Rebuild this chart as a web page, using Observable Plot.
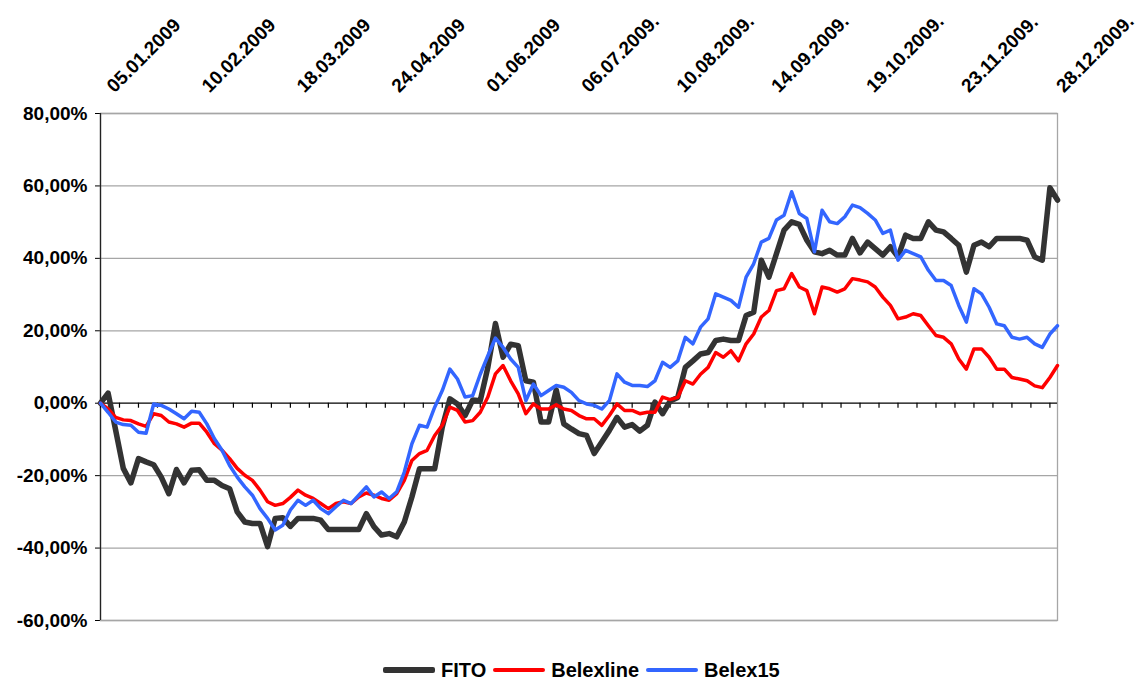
<!DOCTYPE html>
<html>
<head>
<meta charset="utf-8">
<script src="https://cdn.jsdelivr.net/npm/d3@7"></script>
<script src="https://cdn.jsdelivr.net/npm/@observablehq/plot@0.6"></script>
<style>
  html, body { margin: 0; padding: 0; background: #ffffff; }
  #chart { position: relative; width: 1142px; height: 681px; overflow: hidden; font-family: "Liberation Sans", Arial, sans-serif; }
  #legend { position: absolute; left: 383px; top: 657px; height: 26px; display: flex; align-items: center; font-weight: bold; font-size: 20px; color: #000; }
  #legend .item { display: flex; align-items: center; margin-right: 7px; }
  #legend .sw { display: inline-block; width: 52px; margin-right: 6px; }
</style>
</head>
<body>
<div id="chart"><div id="legend"></div></div>
<script>
// Values in %, sampled every 2 trading days (day index 0, 2, 4, ... 252)
const fito = [
  0, 2.8, -7.5, -18, -22, -15.3, -16.2, -17, -20.4, -25, -18.3, -22, -18.5, -18.4, -21.3, -21.3, -22.7, -23.6, -30, -32.8, -33.2, -33.2, -39.6, -31.8, -31.6, -34,
  -31.8, -31.8, -31.8, -32.3, -34.9, -34.9, -34.9, -34.9, -34.9, -30.5, -34.1, -36.4, -36, -36.9, -32.8, -25.9, -18.1, -18.1, -18.1, -6.6, 1.2, -0.2, -3.4, 0.9, 0.7,
  9.9, 22, 12.7, 16.3, 15.9, 6.2, 5.8, -5.2, -5.2, 3.7, -5.7, -7.1, -8.4, -8.9, -13.9, -10.7, -7.5, -3.9, -6.6, -5.9, -7.7, -6.1, 0.3, -2.9, 0.6,
  1.6, 9.9, 11.7, 13.6, 14, 17.3, 17.7, 17.3, 17.3, 24.2, 25.1, 39.5, 34.8, 41.3, 47.8, 50.1, 49.4, 45, 41.8, 41.3, 42.2, 40.9, 40.9, 45.5, 41.5,
  44.5, 42.7, 40.9, 43.2, 40.4, 46.4, 45.5, 45.5, 50.1, 47.8, 47.3, 45.5, 43.6, 36.2, 43.6, 44.5, 43.2, 45.5, 45.5, 45.5, 45.5, 45, 40.4, 39.5, 59.5, 56.1
];
const belexline = [
  0, -1.6, -3.9, -4.6, -4.8, -5.7, -6.4, -2.9, -3.4, -5.2, -5.7, -6.6, -5.5, -5.5, -8, -11.2, -13, -15.3, -18, -19.9, -21.3, -24, -27.2, -28.2, -27.7, -26,
  -24, -25.4, -26.3, -27.7, -29.1, -27.7, -27.2, -27.7, -25.9, -24.8, -25.4, -26.3, -26.8, -25, -21.3, -15.8, -13.9, -13, -8.9, -6.1, -1.1, -2, -5.2, -4.8, -2.5,
  1.7, 8.1, 10.4, 6.2, 2.6, -2.9, -0.2, -1.6, -1.6, -0.4, -1.6, -2, -3.4, -4.3, -4.3, -6.1, -3.4, -0.2, -2, -2, -2.9, -2.5, -2.5, 1.7, 1,
  1.6, 6.2, 5.3, 8, 9.9, 14, 12.7, 14.5, 11.7, 16.4, 19.1, 23.8, 25.6, 31.1, 31.6, 35.8, 32.1, 31.1, 24.7, 32.1, 31.6, 30.7, 31.6, 34.4, 34,
  33.5, 32.1, 29.3, 27, 23.3, 23.8, 24.7, 24.2, 21.4, 18.7, 18.2, 16.4, 12.2, 9.4, 15, 15, 12.7, 9.4, 9.4, 7.1, 6.7, 6.2, 4.8, 4.3, 7.1, 10.4
];
const belex15 = [
  0, -2.5, -5.2, -5.9, -6.1, -8, -8.3, -0.2, -0.6, -1.6, -2.9, -4.3, -2.2, -2.5, -5.7, -9.8, -13, -17.2, -20.4, -23.1, -25.4, -29.1, -31.8, -35, -33.7, -29.5,
  -26.8, -28.2, -26.8, -29.1, -30.5, -28.6, -26.8, -27.7, -25.4, -23.1, -25.9, -24.5, -26.3, -24.5, -19, -11.2, -6.1, -6.6, -1.1, 3.5, 9.4, 6.7, 1.7, 2.1, 8,
  13.1, 18, 15.4, 12.2, 9.9, 0.7, 5.3, 2.1, 3.5, 4.9, 4.4, 3, 0.7, -0.2, -0.6, -1.6, 0.7, 8.1, 5.8, 4.9, 4.9, 4.6, 6.2, 11.3, 9.9,
  11.7, 18.2, 16.4, 21, 23.3, 30.2, 29.3, 28.4, 26.5, 34.8, 38.5, 44.5, 45.5, 50.6, 51.9, 58.4, 52.4, 51, 41.8, 53.3, 50.1, 49.6, 51.5, 54.7, 54,
  52.4, 50.6, 46.9, 47.8, 39.5, 42.2, 41.3, 40.4, 36.7, 33.9, 33.9, 32.5, 27, 22.4, 31.6, 30.2, 26.5, 21.9, 21.4, 18.2, 17.7, 18.2, 16.4, 15.4, 19.1, 21.4
];
const sampleStep = 2;          // trading days between samples
const lastDay = 252;           // last trading-day index
const dateLabels = ["05.01.2009", "10.02.2009", "18.03.2009", "24.04.2009", "01.06.2009", "06.07.2009.", "10.08.2009.", "14.09.2009.", "19.10.2009.", "23.11.2009.", "28.12.2009."];
const labelDays = [0, 25, 50, 75, 100, 125, 150, 175, 200, 225, 250];
const tickDays = d3.range(0, lastDay + 1, 5);
const yTicks = [-60, -40, -20, 0, 20, 40, 60, 80];
const seriesNames = ["FITO", "Belexline", "Belex15"];
const seriesColors = ["#333333", "#ff0000", "#3366ff"];
const seriesWidths = [5.5, 3.5, 3.5];

const seriesValues = [fito, belexline, belex15];
const rowsFor = (vals) => vals.map((v, i) => ({day: i * sampleStep, value: v}));
const labels = labelDays.map((d, i) => ({day: d, text: dateLabels[i]}));
const fmt = (v) => v.toFixed(2).replace(".", ",") + "%";

const plot = Plot.plot({
  width: 1142,
  height: 645,
  marginLeft: 100,
  marginRight: 85,
  marginTop: 113,
  marginBottom: 25,
  style: {fontFamily: "'Liberation Sans', Arial, sans-serif", fontSize: "19px", fontWeight: "bold", color: "#000", background: "#fff"},
  x: {domain: [0, lastDay], axis: null},
  y: {domain: [-60, 80], ticks: yTicks, tickFormat: fmt, tickSize: 5, tickPadding: 8, label: null},
  marks: [
    Plot.ruleY(yTicks.filter(d => d !== 0), {stroke: "#a6a6a6", strokeWidth: 1.3}),
    Plot.frame({stroke: "#a6a6a6", strokeWidth: 1.3}),
    Plot.ruleX([0], {stroke: "#222", strokeWidth: 1.3}),
    Plot.ruleY([0], {stroke: "#000", strokeWidth: 1.3}),
    Plot.ruleX(tickDays, {x: d => d, y1: 0, y2: 0, insetBottom: -5, stroke: "#000", strokeWidth: 1.2}),
    Plot.text(labels, {x: "day", text: "text", frameAnchor: "top", lineAnchor: "bottom", rotate: -45, textAnchor: "start", dx: 14, dy: -20, fontSize: 19, fontWeight: "bold", fill: "#000"}),
    ...seriesValues.map((vals, i) =>
      Plot.line(rowsFor(vals), {x: "day", y: "value", stroke: seriesColors[i], strokeWidth: seriesWidths[i], strokeLinejoin: "round", strokeLinecap: "round"})
    )
  ]
});
document.getElementById("chart").prepend(plot);

const legend = document.getElementById("legend");
seriesNames.forEach((name, i) => {
  const item = document.createElement("div");
  item.className = "item";
  const sw = document.createElement("span");
  sw.className = "sw";
  sw.style.height = seriesWidths[i] + "px";
  sw.style.background = seriesColors[i];
  sw.style.borderRadius = "2px";
  const t = document.createElement("span");
  t.textContent = name;
  item.appendChild(sw);
  item.appendChild(t);
  legend.appendChild(item);
});
</script>
</body>
</html>
